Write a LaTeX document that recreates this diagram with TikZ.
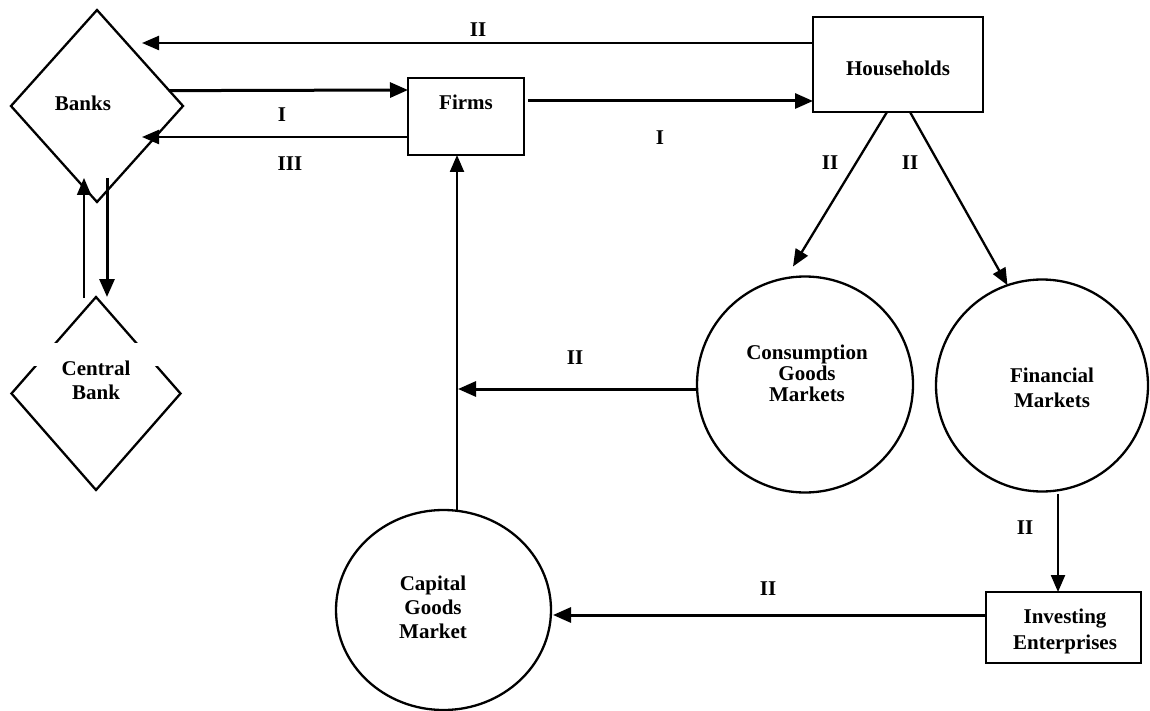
\documentclass[tikz,border=0pt]{standalone}
\usepackage{fontspec}
\setmainfont{Liberation Serif}
\usetikzlibrary{shapes.geometric,arrows.meta}
\begin{document}
\begin{tikzpicture}[x=1pt,y=-1pt,
  every node/.style={inner sep=0pt, outer sep=0pt},
  lbl/.style={font=\bfseries\fontsize{21}{24}\selectfont, align=center},
  box/.style={draw, line width=2.5pt, rectangle},
  shp/.style={draw, line width=2.3pt},
  arr/.style={line width=3pt, -{Triangle[length=18pt,width=15pt]}},
  marr/.style={line width=2.3pt, -{Triangle[length=17pt,width=14pt]}},
  tarr/.style={line width=1.7pt, -{Triangle[length=17pt,width=14pt]}},
]
\useasboundingbox (0,0) rectangle (1150,711);

% shapes
\node[shp, diamond, minimum width=172pt, minimum height=192pt] (banks) at (97,106) {};
\node[shp, diamond, minimum width=169pt, minimum height=193pt] (cb) at (96,393.5) {};
\fill[white] (28,343) rectangle (164,366);
\node[box, minimum width=116pt, minimum height=77pt] (firms) at (466,116.5) {};
\node[box, minimum width=170pt, minimum height=95pt] (hh) at (898,64.5) {};
\node[box, minimum width=155pt, minimum height=71pt] (inv) at (1063.5,627.5) {};
\node[shp, circle, minimum size=216pt] (cons) at (805,384.5) {};
\node[shp, circle, minimum size=212pt] (fin) at (1042,385.5) {};
\node[shp, ellipse, minimum width=215pt, minimum height=200pt] (cap) at (443.5,610) {};

% texts
\node[lbl] (banksT) at (83,103) {Banks};
\node[lbl] (cbT) at (96,380) {Central\\Bank};
\node[lbl] (firmsT) at (466,102) {Firms};
\node[lbl] (hhT) at (898,68) {Households};
\node[lbl, font=\bfseries\fontsize{21}{21}\selectfont] (consT) at (807,373) {Consumption\\Goods\\Markets};
\node[lbl, font=\bfseries\fontsize{21}{25}\selectfont] (finT) at (1052,388) {Financial\\Markets};
\node[lbl] (capT) at (433,607) {Capital\\Goods\\Market};
\node[lbl, font=\bfseries\fontsize{21}{26}\selectfont] (invT) at (1065,631) {Investing\\Enterprises};

% tip coordinates
\coordinate (bII) at (142,43);
\coordinate (bIII) at (142,137);
\coordinate (cfTip) at (458,389);

% connectors
\draw[marr] ([yshift=21.5pt]hh.west) -- (bII);
\draw[arr] (banks.12.6) -- ([yshift=26.5pt]firms.west);
\draw[marr] ([yshift=-20.5pt]firms.west) -- (bIII);
\draw[arr] ([xshift=4pt,yshift=15.5pt]firms.east) -- ([yshift=-36.5pt]hh.west);
\draw[tarr] ([xshift=-12pt,yshift=-1pt]cb.north) -- ([xshift=-13pt,yshift=24pt]banks.south);
\draw[arr] ([xshift=10pt,yshift=24pt]banks.south) -- ([xshift=11pt]cb.north);
\draw[marr] ([xshift=-11pt]hh.south) -- ([xshift=-12pt,yshift=118pt]cons.center);
\draw[marr] ([xshift=12pt]hh.south) -- (fin.109.6);
\draw[arr] ([yshift=-4.5pt]cons.west) -- (cfTip);
\draw[marr] ([xshift=13.5pt]cap.north) -- ([xshift=-9pt]firms.south);
\draw[marr] ([xshift=16pt,yshift=-2.5pt]fin.south) -- ([xshift=-5.5pt]inv.north);
\draw[arr] ([yshift=12.5pt]inv.west) -- ([xshift=2pt,yshift=-5pt]cap.east);

% labels
\node[lbl] (l1) at (478,30) {II};
\node[lbl] (l2) at (282,115) {I};
\node[lbl] (l3) at (290,164) {III};
\node[lbl] (l4) at (660,138) {I};
\node[lbl] (l5) at (830,163) {II};
\node[lbl] (l6) at (910,163) {II};
\node[lbl] (l7) at (575,358) {II};
\node[lbl] (l8) at (1025,528) {II};
\node[lbl] (l9) at (768,589) {II};
\end{tikzpicture}
\end{document}
